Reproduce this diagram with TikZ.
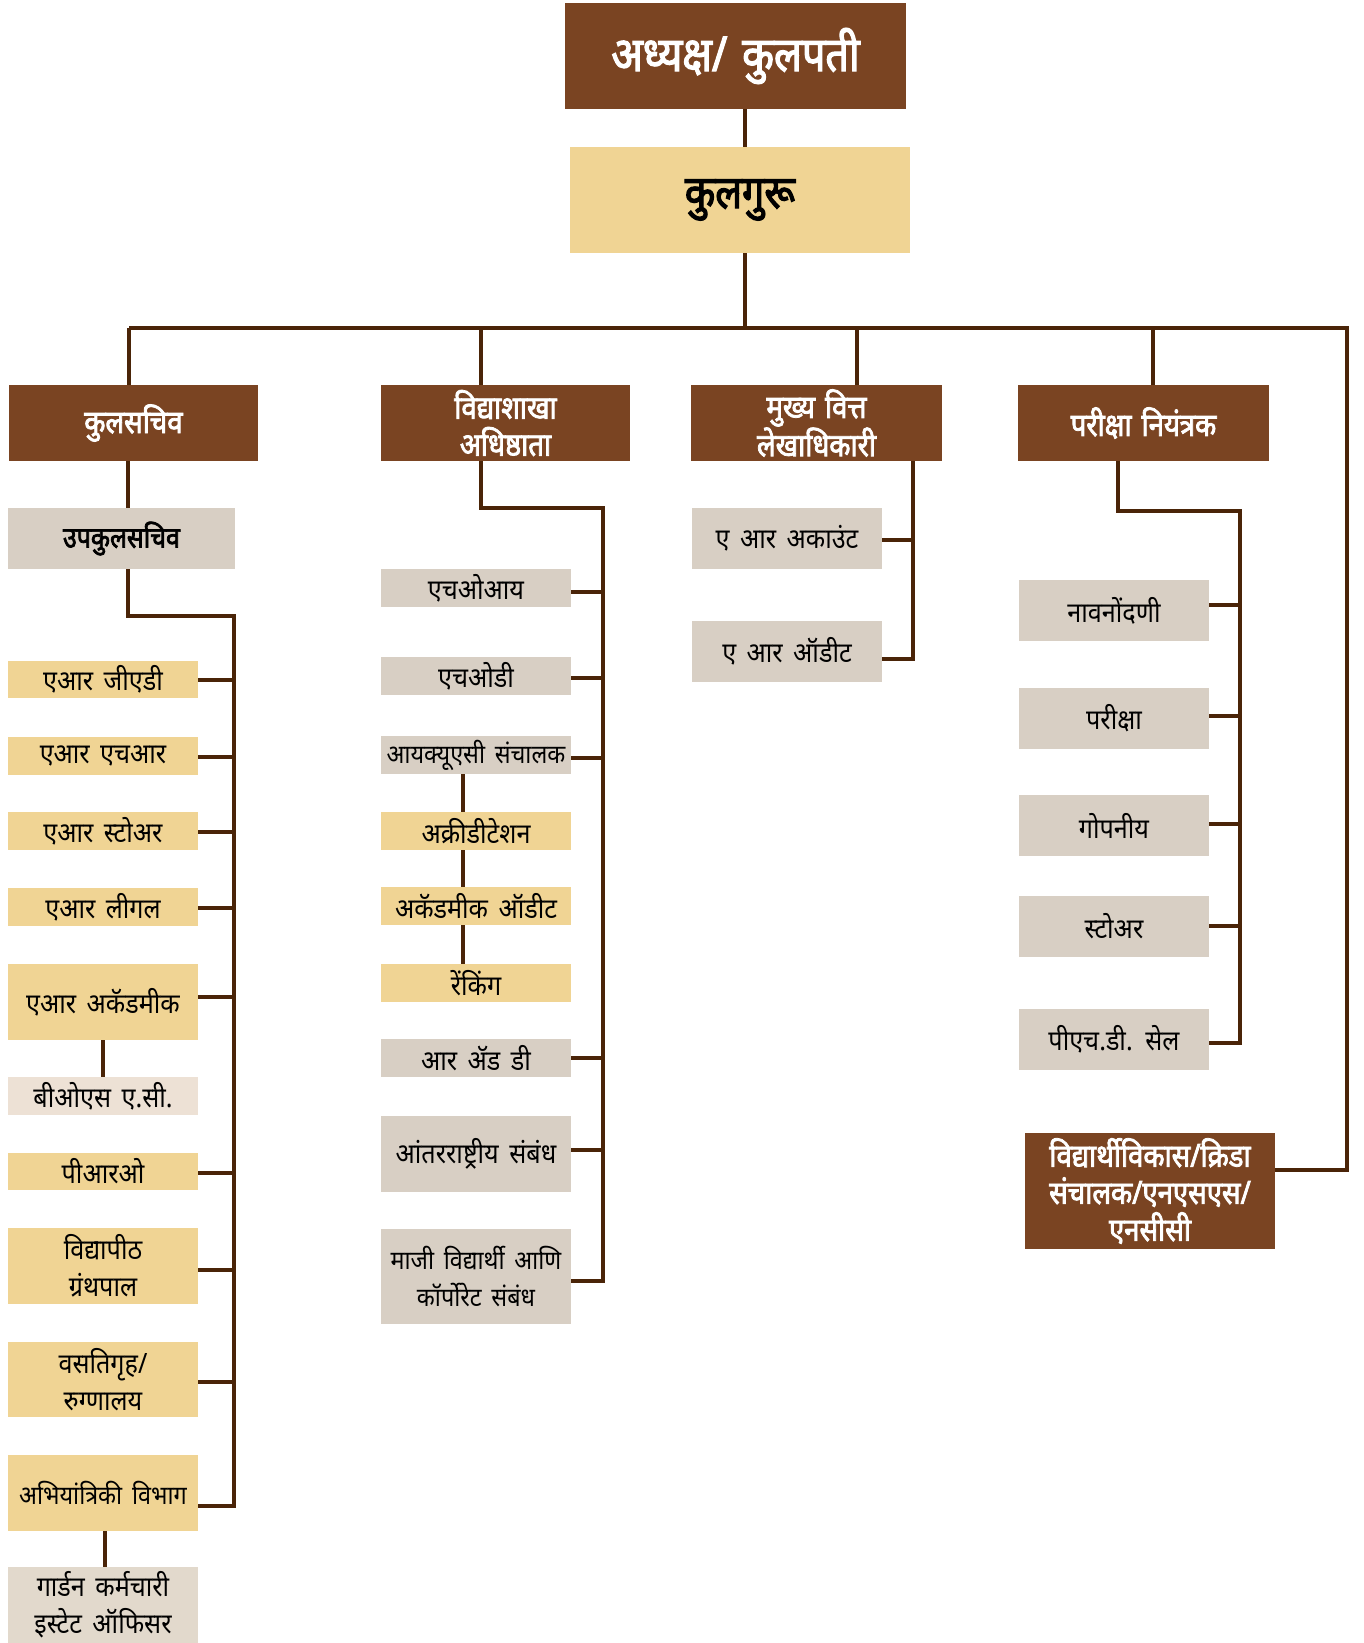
\documentclass[tikz,border=0pt]{standalone}
\usepackage{fontspec}
\newfontfamily\dev[Script=Devanagari, FakeStretch=0.9, WordSpace=1.6]{Noto Sans}
\newfontfamily\devb[Script=Devanagari, FakeStretch=0.86, FakeBold=2.5, WordSpace=1.4]{Noto Sans}
\definecolor{brn}{HTML}{7A4422}
\definecolor{ylw}{HTML}{F0D494}
\definecolor{gry}{HTML}{D8CFC4}
\definecolor{bos}{HTML}{EDE1D5}
\definecolor{gdn}{HTML}{E2D9CC}
\definecolor{lc}{HTML}{4A2408}
\tikzset{
  base/.style={inner sep=0pt, outer sep=0pt, align=center, font=\dev\fontsize{28}{37}\selectfont},
  tight/.style={font=\dev\fontsize{26}{37}\selectfont},
  topbox/.style={base, fill=brn, text=white, font=\devb\fontsize{48}{56}\selectfont},
  vcbox/.style={base, fill=ylw, text=black, font=\devb\fontsize{46}{54}\selectfont},
  headbox/.style={base, fill=brn, text=white, font=\devb\fontsize{32}{37}\selectfont},
  upbox/.style={base, fill=gry, text=black, font=\devb\fontsize{29}{34}\selectfont},
  ybox/.style={base, fill=ylw},
  gbox/.style={base, fill=gry},
  bbox/.style={base, fill=bos},
  gdbox/.style={base, fill=gdn},
  conn/.style={draw=lc, line width=4.6pt, line join=miter, line cap=butt},
}
\newcommand\bx[7]{%
  \pgfmathsetmacro\bw{#5-#3}\pgfmathsetmacro\bh{#6-#4}%
  \pgfmathsetmacro\cx{(#3+#5)/2}\pgfmathsetmacro\cy{(#4+#6)/2}%
  \node[#2, minimum width=\bw pt, minimum height=\bh pt] (#1) at (\cx,\cy) {#7};}
\begin{document}
\begin{tikzpicture}[x=1pt,y=-1pt]
\useasboundingbox (0,0) rectangle (1364,1643);
% top
\bx{top}{topbox}{565}{3}{906}{109}{अध्यक्ष/ कुलपती}
\bx{vc}{vcbox}{570}{147}{910}{253}{कुलगुरू}
% level 2
\bx{kul}{headbox}{9}{385}{258}{461}{कुलसचिव}
\bx{vid}{headbox}{381}{385}{630}{461}{विद्याशाखा\\अधिष्ठाता}
\bx{mukh}{headbox}{691}{385}{942}{461}{मुख्य वित्त\\लेखाधिकारी}
\bx{par}{headbox}{1018}{385}{1269}{461}{परीक्षा नियंत्रक}
\bx{stu}{headbox}{1025}{1133}{1275}{1249}{विद्यार्थीविकास/क्रिडा\\संचालक/एनएसएस/\\एनसीसी}
% column 1
\bx{upk}{upbox}{8}{508}{235}{569}{उपकुलसचिव}
\bx{gad}{ybox}{8}{661}{198}{698}{एआर जीएडी}
\bx{hr}{ybox}{8}{737}{198}{775}{एआर एचआर}
\bx{sto}{ybox}{8}{812}{198}{850}{एआर स्टोअर}
\bx{leg}{ybox}{8}{888}{198}{926}{एआर लीगल}
\bx{aca}{ybox}{8}{964}{198}{1040}{एआर अकॅडमीक}
\bx{bos}{bbox}{8}{1077}{198}{1115}{बीओएस ए.सी.}
\bx{pro}{ybox}{8}{1153}{198}{1190}{पीआरओ}
\bx{lib}{ybox}{8}{1228}{198}{1304}{विद्यापीठ\\ग्रंथपाल}
\bx{hos}{ybox}{8}{1342}{198}{1417}{वसतिगृह/\\रुग्णालय}
\bx{eng}{ybox,tight}{8}{1455}{198}{1531}{अभियांत्रिकी विभाग}
\bx{gar}{gdbox}{8}{1567}{198}{1643}{गार्डन कर्मचारी\\इस्टेट ऑफिसर}
% column 2
\bx{hoi}{gbox}{381}{569}{571}{607}{एचओआय}
\bx{hod}{gbox}{381}{657}{571}{695}{एचओडी}
\bx{iqac}{gbox,tight}{381}{736}{571}{774}{आयक्यूएसी संचालक}
\bx{acc}{ybox}{381}{812}{571}{850}{अक्रीडीटेशन}
\bx{aau}{ybox}{381}{887}{571}{925}{अकॅडमीक ऑडीट}
\bx{rnk}{ybox}{381}{964}{571}{1002}{रेंकिंग}
\bx{rnd}{gbox}{381}{1039}{571}{1077}{आर ॲड डी}
\bx{intl}{gbox}{381}{1116}{571}{1192}{आंतरराष्ट्रीय संबंध}
\bx{alu}{gbox,tight}{381}{1229}{571}{1324}{माजी विद्यार्थी आणि\\कॉर्पोरेट संबंध}
% column 3
\bx{acct}{gbox}{692}{508}{882}{569}{ए आर अकाउंट}
\bx{audt}{gbox}{692}{621}{882}{682}{ए आर ऑडीट}
% column 4
\bx{nav}{gbox}{1019}{580}{1209}{641}{नावनोंदणी}
\bx{exm}{gbox}{1019}{688}{1209}{749}{परीक्षा}
\bx{gop}{gbox}{1019}{795}{1209}{856}{गोपनीय}
\bx{st4}{gbox}{1019}{896}{1209}{957}{स्टोअर}
\bx{phd}{gbox}{1019}{1009}{1209}{1070}{पीएच.डी. सेल}
% coordinates
\coordinate (tx) at (745,0);
\coordinate (busL) at (129,328);
\coordinate (busR) at (1347,328);
\coordinate (b1) at (129,0);
\coordinate (b2) at (481,0);
\coordinate (b3) at (857,0);
\coordinate (b4) at (1153,0);
\coordinate (c1) at (234,616);
\coordinate (c2) at (603,508);
\coordinate (c3) at (913,0);
\coordinate (c4) at (1240,511);
% connectors top
\draw[conn] (top.south -| tx) -- (vc.north -| tx);
\draw[conn] (vc.south -| tx) -- (tx |- busL);
\draw[conn] (busL) -- (busR) -- (busR |- 0,1170) -- (stu.east |- 0,1170);
\draw[conn] (b1 |- busL) -- (kul.north -| b1);
\draw[conn] (b2 |- busL) -- (vid.north -| b2);
\draw[conn] (b3 |- busL) -- (mukh.north -| b3);
\draw[conn] (b4 |- busL) -- (par.north -| b4);
% column 1
\draw[conn] (kul.south -| 128,0) -- (upk.north -| 128,0);
\draw[conn] (upk.south -| 128,0) -- (128,616) -- (c1) -- (c1 |- 0,1506) -- (eng.east |- 0,1506);
\foreach \n/\y in {gad/680, hr/757, sto/832, leg/908, aca/997, pro/1173, lib/1270, hos/1382}
  \draw[conn] (\n.east |- 0,\y) -- (c1 |- 0,\y);
\draw[conn] (aca.south -| 103,0) -- (bos.north -| 103,0);
\draw[conn] (eng.south -| 105,0) -- (gar.north -| 105,0);
% column 2
\draw[conn] (vid.south -| 481,0) -- (481,508) -- (c2) -- (c2 |- 0,1281) -- (alu.east |- 0,1281);
\foreach \n/\y in {hoi/592, hod/678, iqac/758, rnd/1058, intl/1150}
  \draw[conn] (\n.east |- 0,\y) -- (c2 |- 0,\y);
\draw[conn] (iqac.south -| 463,0) -- (acc.north -| 463,0);
\draw[conn] (acc.south -| 463,0) -- (aau.north -| 463,0);
\draw[conn] (aau.south -| 463,0) -- (rnk.north -| 463,0);
% column 3
\draw[conn] (mukh.south -| c3) -- (c3 |- 0,659) -- (audt.east |- 0,659);
\draw[conn] (acct.east |- 0,540) -- (c3 |- 0,540);
% column 4
\draw[conn] (par.south -| 1118,0) -- (1118,511) -- (c4) -- (c4 |- 0,1043) -- (phd.east |- 0,1043);
\foreach \n/\y in {nav/605, exm/716, gop/824, st4/926}
  \draw[conn] (\n.east |- 0,\y) -- (c4 |- 0,\y);
\end{tikzpicture}
\end{document}
